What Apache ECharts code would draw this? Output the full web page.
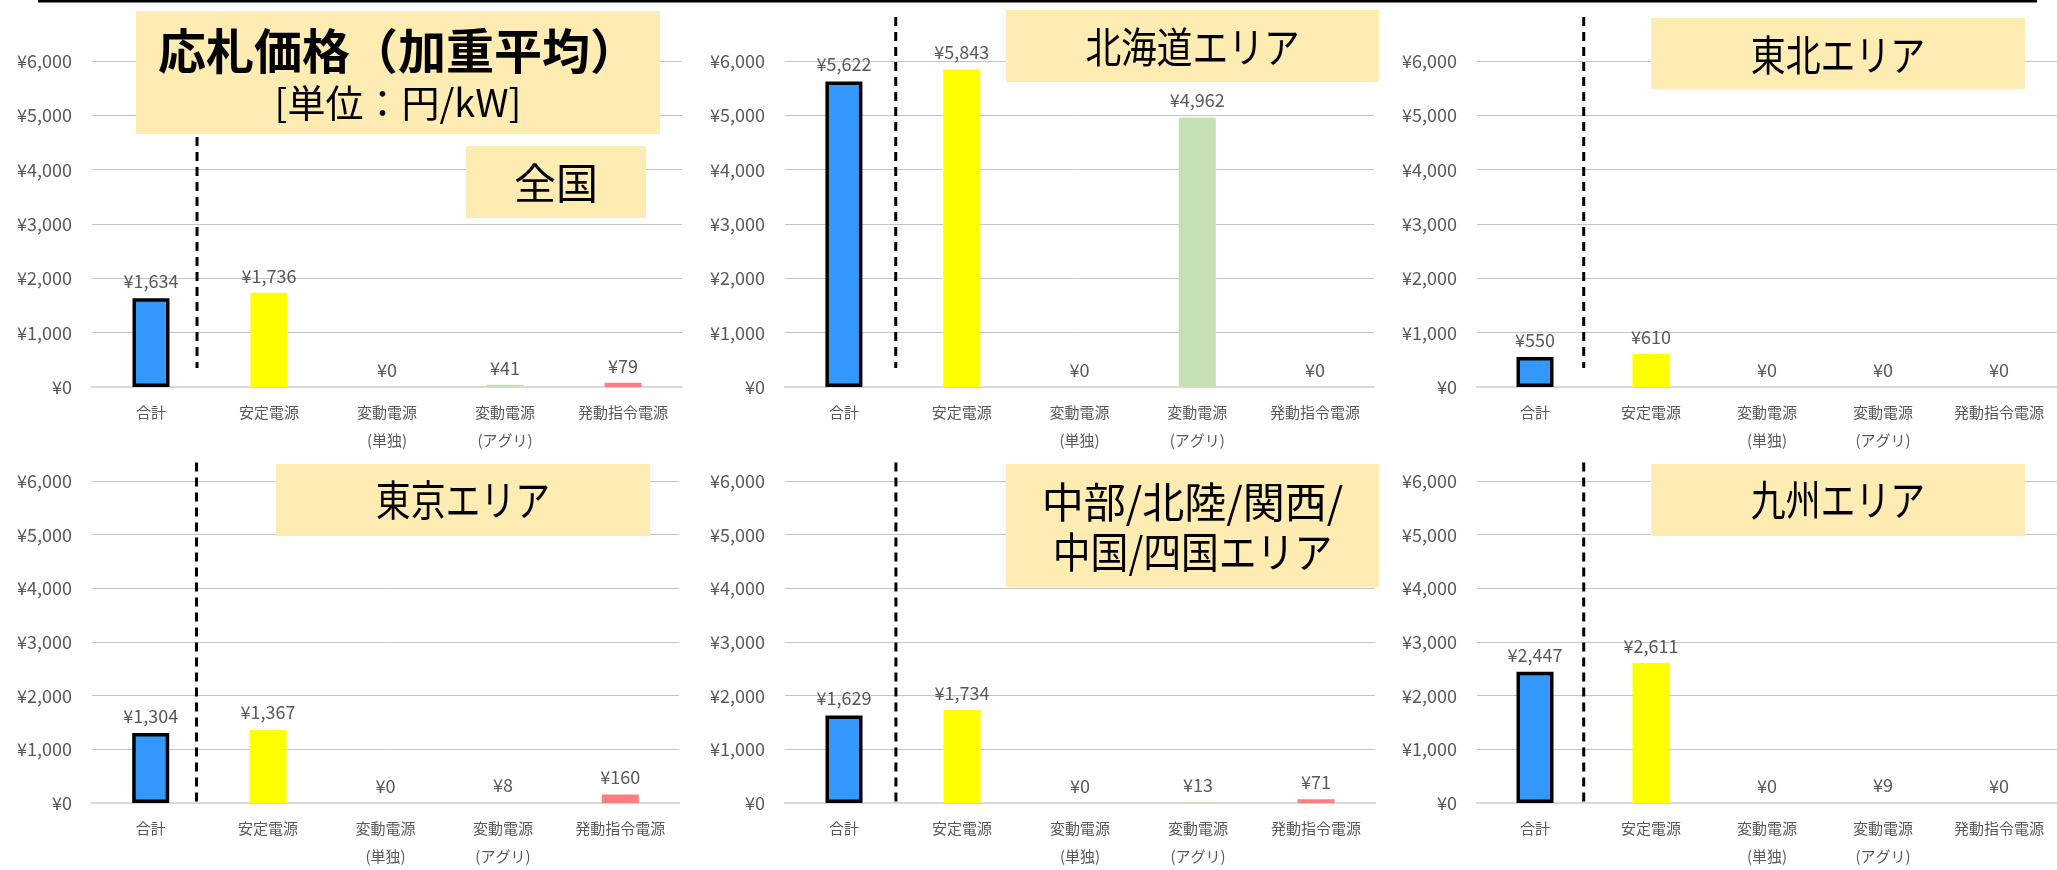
<!DOCTYPE html>
<html>
<head>
<meta charset="utf-8">
<script src="https://cdn.jsdelivr.net/npm/echarts@6/dist/echarts.min.js"></script>
<style>
  html, body { margin: 0; padding: 0; background: #fff; }
  #myCharts { width: 2057px; height: 870px; }
</style>
</head>
<body>
<div id="myCharts"></div>
<script>
  // categories and values (円/kW)
  const categories = ['合計', '安定電源', '変動電源\n(単独)', '変動電源\n(アグリ)', '発動指令電源'];
  const zenkoku  = [1634, 1736, 0, 41, 79];
  const hokkaido = [5622, 5843, 0, 4962, 0];
  const tohoku   = [550, 610, 0, 0, 0];
  const tokyo    = [1304, 1367, 0, 8, 160];
  const chubu    = [1629, 1734, 0, 13, 71];
  const kyushu   = [2447, 2611, 0, 9, 0];
  const yTicks   = [0, 1000, 2000, 3000, 4000, 5000, 6000];

  const barColors = ['#3399FF', '#FFFF00', '#F4B183', '#C5E0B4', '#FF7C80'];
  const font = '"Noto Sans CJK JP", "Noto Sans", sans-serif';

  // panel layout: plot area, separator line range (value space)
  const panels = [
    { data: zenkoku,  left: 92,   top: 61,  width: 590, height: 326, sep: 0.89, sepTop: 6810, sepBottom: 350 },
    { data: hokkaido, left: 785,  top: 61,  width: 589, height: 326, sep: 0.94, sepTop: 6810, sepBottom: 350 },
    { data: tohoku,   left: 1477, top: 61,  width: 582, height: 326, sep: 0.92, sepTop: 6810, sepBottom: 350 },
    { data: tokyo,    left: 92,   top: 481, width: 587, height: 328, sep: 0.89, sepTop: 6347, sepBottom: -55 },
    { data: chubu,    left: 785,  top: 481, width: 590, height: 328, sep: 0.94, sepTop: 6347, sepBottom: -55 },
    { data: kyushu,   left: 1477, top: 481, width: 582, height: 328, sep: 0.92, sepTop: 6347, sepBottom: -55 }
  ];

  // area title boxes; each line: text, centre y, horizontal squeeze
  const boxes = [
    { x: 466,  y: 146, w: 180, h: 72,  lines: [['全国', 183, 1]] },
    { x: 1006, y: 10,  w: 373, h: 72,  lines: [['北海道エリア', 47, 0.85]] },
    { x: 1651, y: 18,  w: 374, h: 71,  lines: [['東北エリア', 55, 0.83]] },
    { x: 276,  y: 464, w: 374, h: 72,  lines: [['東京エリア', 500, 0.83]] },
    { x: 1006, y: 464, w: 373, h: 123, lines: [['中部/北陸/関西/', 502, 1], ['中国/四国エリア', 552, 0.9]] },
    { x: 1651, y: 464, w: 374, h: 72,  lines: [['九州エリア', 500, 0.83]] }
  ];

  const yen = v => '¥' + Number(v).toLocaleString('en-US');

  const grid = [], xAxis = [], yAxis = [], series = [];
  panels.forEach((p, i) => {
    grid.push({ left: p.left, top: p.top, width: p.width, height: p.height });
    xAxis.push({
      type: 'category', gridIndex: i, data: categories,
      axisLine: { show: true, lineStyle: { color: '#D9D9D9', width: 2 } },
      axisTick: { show: false },
      axisLabel: { interval: 0, color: '#595959', fontSize: 15, lineHeight: 28, margin: 11, fontFamily: font }
    });
    yAxis.push({
      type: 'value', gridIndex: i, min: 0, max: 6000, interval: 1000,
      axisLine: { show: false }, axisTick: { show: false },
      splitLine: { lineStyle: { color: '#C4C4C4', width: 1 } },
      axisLabel: { color: '#595959', fontSize: 18, margin: 20, fontFamily: font, formatter: yen }
    });
    series.push({
      type: 'bar', xAxisIndex: i, yAxisIndex: i, barWidth: 37,
      data: p.data.map((v, k) => ({
        value: v,
        itemStyle: k === 0
          ? { color: barColors[0], borderColor: '#000', borderWidth: 3.5 }
          : { color: barColors[k] }
      })),
      label: {
        show: true, position: 'top', distance: 8, color: '#595959',
        fontSize: 18, fontFamily: font, formatter: q => yen(q.value)
      }
    });
  });

  // hidden value x-axes for the dashed separator between 合計 and the rest
  panels.forEach((p, i) => {
    xAxis.push({ type: 'value', gridIndex: i, min: 0, max: 5, show: false });
    series.push({
      type: 'line', xAxisIndex: panels.length + i, yAxisIndex: i,
      data: [[p.sep, p.sepTop], [p.sep, p.sepBottom]],
      clip: false, symbol: 'none', silent: true, z: 3,
      lineStyle: { color: '#000', width: 3, type: [9, 6] }
    });
  });

  const graphic = [
    { type: 'line', z: 100, shape: { x1: 38, y1: 1, x2: 2037, y2: 1 }, style: { stroke: '#000', lineWidth: 3 } },
    { type: 'rect', z: 100, shape: { x: 136, y: 11, width: 524, height: 123 }, style: { fill: '#FFECB3' } },
    { type: 'text', z: 101, style: { text: '応札価格（加重平均）', x: 398, y: 51, align: 'center', verticalAlign: 'middle', fill: '#000', font: 'bold 48px ' + font } },
    { type: 'text', z: 101, style: { text: '[単位：円/kW]', x: 398, y: 103, align: 'center', verticalAlign: 'middle', fill: '#000', font: '38px ' + font } }
  ];
  boxes.forEach(b => {
    graphic.push({ type: 'rect', z: 100, shape: { x: b.x, y: b.y, width: b.w, height: b.h }, style: { fill: '#FFECB3' } });
    b.lines.forEach(([text, cy, sx]) => {
      graphic.push({
        type: 'text', z: 101, x: b.x + b.w / 2, y: cy, scaleX: sx,
        style: { text: text, x: 0, y: 0, align: 'center', verticalAlign: 'middle', fill: '#000', font: '42px ' + font }
      });
    });
  });

  const mychart = echarts.init(document.getElementById('myCharts'));
  mychart.setOption({
    animation: false,
    backgroundColor: '#fff',
    textStyle: { fontFamily: font },
    grid, xAxis, yAxis, series, graphic
  });
  window.onresize = mychart.resize;
</script>
</body>
</html>
